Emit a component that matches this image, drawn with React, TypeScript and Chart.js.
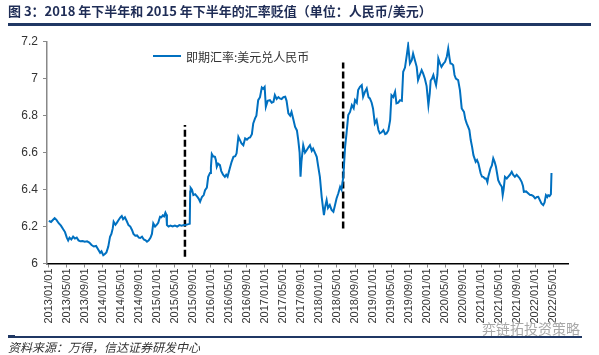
import React, { useEffect, useRef } from "react";
import { Chart, registerables } from "chart.js";
Chart.register(...registerables);

const seriesName = "即期汇率:美元兑人民币";

const dates = [
  "2013-01-01","2013-01-16","2013-02-01","2013-02-10","2013-02-22","2013-03-07","2013-03-22","2013-04-07","2013-04-19","2013-05-01",
  "2013-05-10","2013-05-19","2013-06-01","2013-06-13","2013-06-25","2013-07-07","2013-07-19","2013-08-01","2013-08-16","2013-09-01",
  "2013-09-16","2013-10-01","2013-10-16","2013-11-01","2013-11-16","2013-12-01","2013-12-13","2013-12-22","2014-01-04","2014-01-13",
  "2014-01-25","2014-02-07","2014-02-19","2014-02-28","2014-03-07","2014-03-13","2014-03-25","2014-04-04","2014-04-16","2014-04-28",
  "2014-05-07","2014-05-16","2014-05-28","2014-06-10","2014-06-22","2014-07-04","2014-07-16","2014-07-25","2014-08-07","2014-08-19",
  "2014-09-01","2014-09-10","2014-09-22","2014-10-04","2014-10-16","2014-10-25","2014-11-07","2014-11-19","2014-11-28","2014-12-07",
  "2014-12-19","2015-01-01","2015-01-10","2015-01-22","2015-02-01","2015-02-10","2015-02-19","2015-02-28","2015-03-04","2015-03-08",
  "2015-03-19","2015-04-01","2015-04-16","2015-05-01","2015-05-16","2015-06-01","2015-06-16","2015-07-01","2015-07-16","2015-08-01",
  "2015-08-10","2015-08-13","2015-08-16","2015-08-25","2015-09-04","2015-09-16","2015-10-01","2015-10-10","2015-10-19","2015-11-01",
  "2015-11-13","2015-11-22","2015-12-04","2015-12-13","2015-12-25","2016-01-01","2016-01-07","2016-01-16","2016-01-28","2016-02-04",
  "2016-02-10","2016-02-19","2016-03-01","2016-03-10","2016-03-22","2016-04-04","2016-04-13","2016-04-22","2016-05-07","2016-05-19",
  "2016-06-01","2016-06-13","2016-06-22","2016-07-04","2016-07-13","2016-07-25","2016-08-07","2016-08-19","2016-09-01","2016-09-13",
  "2016-09-22","2016-10-04","2016-10-13","2016-10-25","2016-11-04","2016-11-16","2016-11-28","2016-12-10","2016-12-19","2016-12-29",
  "2017-01-07","2017-01-19","2017-02-04","2017-02-16","2017-02-28","2017-03-07","2017-03-19","2017-04-01","2017-04-10","2017-04-22",
  "2017-05-04","2017-05-16","2017-05-25","2017-06-07","2017-06-19","2017-06-28","2017-07-10","2017-07-22","2017-08-04","2017-08-13",
  "2017-08-22","2017-08-28","2017-09-04","2017-09-16","2017-09-28","2017-10-10","2017-10-22","2017-11-01","2017-11-13","2017-11-22",
  "2017-12-04","2017-12-16","2017-12-25","2018-01-07","2018-01-19","2018-01-28","2018-02-04","2018-02-13","2018-02-22","2018-03-01",
  "2018-03-13","2018-03-25","2018-04-07","2018-04-16","2018-04-28","2018-05-10","2018-05-22","2018-06-01","2018-06-13","2018-06-25",
  "2018-07-04","2018-07-16","2018-07-28","2018-08-10","2018-08-22","2018-09-01","2018-09-13","2018-09-22","2018-10-04","2018-10-16",
  "2018-10-25","2018-11-07","2018-11-19","2018-12-01","2018-12-10","2018-12-22","2019-01-01","2019-01-13","2019-01-25","2019-02-07",
  "2019-02-16","2019-02-28","2019-03-10","2019-03-22","2019-04-01","2019-04-13","2019-04-25","2019-05-04","2019-05-16","2019-05-28",
  "2019-06-07","2019-06-19","2019-07-01","2019-07-13","2019-07-22","2019-08-04","2019-08-16","2019-08-25","2019-09-07","2019-09-19",
  "2019-09-28","2019-10-10","2019-10-22","2019-11-01","2019-11-13","2019-11-25","2019-12-04","2019-12-16","2019-12-28","2020-01-10",
  "2020-01-19","2020-01-25","2020-02-04","2020-02-13","2020-02-22","2020-03-01","2020-03-10","2020-03-16","2020-03-28","2020-04-07",
  "2020-04-19","2020-05-01","2020-05-13","2020-05-22","2020-06-01","2020-06-07","2020-06-16","2020-06-25","2020-07-04","2020-07-13",
  "2020-07-28","2020-08-10","2020-08-22","2020-09-07","2020-09-16","2020-09-25","2020-10-04","2020-10-13","2020-10-22","2020-11-01",
  "2020-11-10","2020-11-25","2020-12-04","2020-12-13","2020-12-28","2021-01-07","2021-01-16","2021-01-25","2021-02-04","2021-02-13",
  "2021-02-19","2021-03-04","2021-03-13","2021-03-22","2021-04-01","2021-04-10","2021-04-19","2021-04-25","2021-05-07","2021-05-19",
  "2021-05-25","2021-06-01","2021-06-10","2021-06-22","2021-07-01","2021-07-13","2021-07-25","2021-08-04","2021-08-16","2021-08-28",
  "2021-09-10","2021-09-19","2021-10-01","2021-10-10","2021-10-16","2021-11-01","2021-11-16","2021-11-28","2021-12-07","2021-12-19",
  "2022-01-01","2022-01-13","2022-01-22","2022-02-04","2022-02-13","2022-02-25","2022-03-04","2022-03-13","2022-03-22","2022-03-28",
  "2022-04-07","2022-04-16","2022-04-20"
];

const rates = [
  6.231,6.225,6.238,6.245,6.236,6.218,6.205,6.185,6.17,6.14,
  6.125,6.14,6.13,6.145,6.135,6.14,6.125,6.12,6.122,6.118,
  6.12,6.113,6.1,6.092,6.095,6.075,6.058,6.066,6.045,6.05,
  6.06,6.09,6.145,6.16,6.19,6.226,6.21,6.22,6.235,6.25,
  6.257,6.24,6.25,6.23,6.208,6.2,6.18,6.16,6.15,6.152,
  6.14,6.138,6.145,6.13,6.125,6.118,6.125,6.14,6.16,6.217,
  6.2,6.21,6.22,6.253,6.25,6.26,6.255,6.275,6.265,6.208,
  6.2,6.205,6.2,6.205,6.2,6.208,6.205,6.208,6.21,6.213,
  6.215,6.39,6.41,6.4,6.37,6.375,6.36,6.35,6.334,6.36,
  6.37,6.397,6.41,6.469,6.49,6.52,6.592,6.58,6.577,6.56,
  6.523,6.54,6.532,6.5,6.48,6.469,6.48,6.47,6.515,6.55,
  6.577,6.58,6.596,6.685,6.67,6.65,6.64,6.677,6.67,6.68,
  6.682,6.7,6.758,6.785,6.8,6.884,6.9,6.952,6.945,6.955,
  6.848,6.88,6.884,6.87,6.875,6.911,6.89,6.9,6.893,6.89,
  6.9,6.902,6.88,6.812,6.8,6.82,6.78,6.739,6.72,6.668,
  6.6,6.469,6.55,6.64,6.6,6.614,6.63,6.64,6.61,6.622,
  6.6,6.577,6.53,6.469,6.361,6.3,6.262,6.31,6.343,6.3,
  6.316,6.29,6.28,6.31,6.352,6.38,6.415,6.4,6.469,6.631,
  6.7,6.803,6.82,6.857,6.84,6.884,6.87,6.938,6.956,6.965,
  6.902,6.929,6.947,6.9,6.893,6.87,6.839,6.758,6.776,6.722,
  6.704,6.71,6.722,6.7,6.704,6.72,6.776,6.911,6.9,6.929,
  6.866,6.87,6.884,6.88,7.037,7.06,7.127,7.181,7.082,7.1,
  7.136,7.1,7.064,6.992,7.02,7.046,7.03,7.001,6.96,6.857,
  6.92,6.99,7.0,7.019,6.99,6.965,7.02,7.109,7.08,7.064,
  7.08,7.091,7.12,7.163,7.11,7.082,7.08,7.073,7.02,7.0,
  6.992,6.938,6.839,6.82,6.78,6.758,6.74,6.722,6.668,6.631,
  6.586,6.55,6.56,6.542,6.488,6.47,6.469,6.46,6.46,6.44,
  6.469,6.515,6.53,6.569,6.55,6.523,6.48,6.451,6.43,6.415,
  6.37,6.4,6.469,6.46,6.469,6.48,6.496,6.48,6.469,6.48,
  6.469,6.46,6.442,6.42,6.388,6.39,6.379,6.37,6.37,6.365,
  6.352,6.36,6.361,6.34,6.325,6.316,6.33,6.37,6.36,6.37,
  6.365,6.375,6.49
];

const markerDates = ["2015-07-08", "2018-06-12"];
const markerLows = [6.037, 6.19];
const markerHighs = [6.749, 7.088];

const yTicks = [6, 6.2, 6.4, 6.6, 6.8, 7, 7.2];
const xTickLabels = [
  "2013/01/01","2013/05/01","2013/09/01","2014/01/01","2014/05/01","2014/09/01","2015/01/01","2015/05/01",
  "2015/09/01","2016/01/01","2016/05/01","2016/09/01","2017/01/01","2017/05/01","2017/09/01","2018/01/01",
  "2018/05/01","2018/09/01","2019/01/01","2019/05/01","2019/09/01","2020/01/01","2020/05/01","2020/09/01",
  "2021/01/01","2021/05/01","2021/09/01","2022/01/01","2022/05/01"
];

const titleText = "图 3：2018 年下半年和 2015 年下半年的汇率贬值（单位：人民币/美元）";
const sourceText = "资料来源：万得，信达证券研发中心";
const watermarkText = "弈链拓投资策略";

function toMonths(s: string): number {
  const p = s.split(/[-\/]/).map(Number);
  return (p[0] - 2013) * 12 + (p[1] - 1) + (p[2] - 1) / 30;
}

export default function App() {
  const ref = useRef<HTMLCanvasElement>(null);
  useEffect(() => {
    const chart = new Chart(ref.current as HTMLCanvasElement, {
      type: "line",
      data: {
        datasets: [
          {
            label: seriesName,
            data: dates.map((d, i) => ({ x: toMonths(d), y: rates[i] })),
            borderColor: "#0070C0",
            backgroundColor: "#0070C0",
            borderWidth: 2,
            pointRadius: 0,
            tension: 0,
          },
          ...markerDates.map((d, i) => ({
            label: "marker" + i,
            data: [
              { x: toMonths(d), y: markerLows[i] },
              { x: toMonths(d), y: markerHighs[i] },
            ],
            borderColor: "#000000",
            borderWidth: 2.5,
            borderDash: [7, 3],
            pointRadius: 0,
          })),
        ],
      },
      options: {
        animation: false,
        responsive: false,
        maintainAspectRatio: false,
        layout: { padding: { left: 0, right: 31, top: 41.7, bottom: 0 } },
        plugins: { legend: { display: false }, tooltip: { enabled: false } },
        scales: {
          x: {
            type: "linear",
            min: -0.4,
            max: 115.3,
            afterBuildTicks: (s: any) => {
              s.ticks = xTickLabels.map((l) => ({ value: toMonths(l) }));
            },
            afterFit: (s: any) => {
              s.height = 91.5;
            },
            ticks: {
              autoSkip: false,
              minRotation: 90,
              maxRotation: 90,
              padding: 1,
              color: "#333333",
              font: { size: 11, family: "'Liberation Sans', Arial, sans-serif" },
              callback: (_v: any, i: number) => xTickLabels[i],
            },
            grid: { drawOnChartArea: false, drawTicks: true, tickLength: 4, color: "#888888" },
            border: { display: true, color: "#000000", width: 1.5 },
          },
          y: {
            min: 6,
            max: 7.2,
            afterBuildTicks: (s: any) => {
              s.ticks = yTicks.map((v) => ({ value: v }));
            },
            afterFit: (s: any) => {
              s.width = 47;
            },
            ticks: {
              padding: 5,
              color: "#333333",
              font: { size: 12, family: "'Liberation Sans', Arial, sans-serif" },
              callback: (v: any) => String(Number(Number(v).toFixed(1))),
            },
            grid: { drawOnChartArea: false, drawTicks: true, tickLength: 4, color: "#888888" },
            border: { display: true, color: "#888888", width: 1.5 },
          },
        },
      },
    } as any);
    return () => chart.destroy();
  }, []);

  const cjk = "'Noto Sans CJK SC', 'Noto Sans', sans-serif";
  return (
    <div style={{ position: "absolute", left: 0, top: 0, width: 599, height: 355, background: "#fff", overflow: "hidden" }}>
      <canvas ref={ref} width={599} height={355} style={{ position: "absolute", left: 0, top: 0, display: "block" }} />
      <div style={{ position: "absolute", left: 8, top: 2, fontFamily: cjk, fontWeight: 700, fontSize: 13, color: "#1F2D56", whiteSpace: "nowrap", lineHeight: "18px" }}>
        {titleText}
      </div>
      <div style={{ position: "absolute", left: 8, top: 23, width: 583, height: 3, background: "#203864" }} />
      <div style={{ position: "absolute", left: 153, top: 48, display: "flex", alignItems: "center", height: 16 }}>
        <div style={{ width: 28, height: 2, background: "#0070C0" }} />
        <span style={{ marginLeft: 5, fontFamily: cjk, fontSize: 12, color: "#333", whiteSpace: "nowrap" }}>{seriesName}</span>
      </div>
      <div style={{ position: "absolute", left: 482, top: 319, fontFamily: cjk, fontSize: 14, color: "#a8a8a8", whiteSpace: "nowrap", lineHeight: "18px", textShadow: "0 0 2px #fff, 0 0 2px #fff" }}>
        {watermarkText}
      </div>
      <div style={{ position: "absolute", left: 8, top: 336, width: 574, height: 1.5, background: "#203864" }} />
      <div style={{ position: "absolute", left: 8, top: 335, width: 7, height: 3, background: "#203864" }} />
      <div style={{ position: "absolute", left: 8, top: 339, fontFamily: cjk, fontStyle: "italic", fontSize: 12, color: "#333", whiteSpace: "nowrap", lineHeight: "15px" }}>
        {sourceText}
      </div>
    </div>
  );
}
